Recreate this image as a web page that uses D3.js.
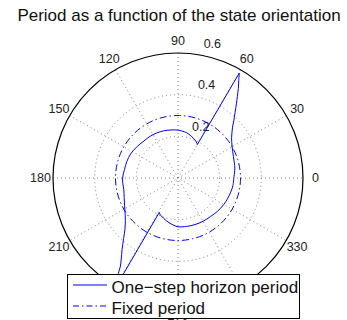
<!DOCTYPE html>
<html>
<head>
<meta charset="utf-8">
<script src="https://cdn.jsdelivr.net/npm/d3@7/dist/d3.min.js"></script>
<style>
html,body{margin:0;padding:0;background:#fff;}
text{font-family:"Liberation Sans",Arial,Helvetica,sans-serif;}
</style>
</head>
<body>
<svg id="chart" width="347" height="320"></svg>
<script>
// ---- data ----
const titleText = "Period as a function of the state orientation";
const angleTicks = [0, 30, 60, 90, 120, 150, 180, 210, 240, 270, 300, 330];
const radiusTicks = [0.2, 0.4, 0.6];
const rMax = 0.6;
const seriesNames = ["One\u2212step horizon period", "Fixed period"];
// One-step horizon period: orientation (deg) and period; three continuous branches
const branch1Theta = [0, 5, 10, 15, 21, 26, 30, 34, 37, 40, 43, 46, 49, 52, 54, 56, 58, 59.7];
const branch1Period = [0.268, 0.272, 0.277, 0.280, 0.285, 0.292, 0.300, 0.311, 0.322, 0.338, 0.358, 0.386, 0.418, 0.456, 0.485, 0.518, 0.550, 0.583];
const branch2Theta = [60, 61, 63, 66, 69, 74, 79, 85, 90, 96, 103, 111, 120, 127, 134, 143, 153, 162, 171, 180,
  186, 192, 200, 207, 214, 219, 224, 228, 232, 235, 237, 238, 240.3];
const branch2Period = [0.185, 0.189, 0.194, 0.200, 0.205, 0.213, 0.221, 0.226, 0.230, 0.232, 0.235, 0.238, 0.240, 0.241, 0.242, 0.248, 0.255, 0.258, 0.260, 0.266,
  0.266, 0.266, 0.275, 0.288, 0.306, 0.325, 0.354, 0.390, 0.436, 0.475, 0.509, 0.540, 0.583];
const branch3Theta = [241.5, 243, 246, 250, 255, 260, 265, 270, 280, 290, 300, 310, 320, 330, 338, 345, 352, 360];
const branch3Period = [0.188, 0.193, 0.199, 0.205, 0.213, 0.221, 0.228, 0.234, 0.236, 0.238, 0.240, 0.242, 0.248, 0.254, 0.258, 0.262, 0.266, 0.268];
// Fixed period: constant
const fixedPeriod = 0.3;

// ---- drawing ----
const svg = d3.select("#chart");
const cx = 178, cy = 178, R = 125;
const r = d3.scaleLinear().domain([0, rMax]).range([0, R]);
const toRad = d => d * Math.PI / 180;
const px = (deg, val) => cx + r(val) * Math.cos(toRad(deg));
const py = (deg, val) => cy - r(val) * Math.sin(toRad(deg));

svg.append("rect").attr("width", 347).attr("height", 320).attr("fill", "#fff");

const g = svg.append("g");
const gridStyle = s => s.attr("fill", "none").attr("stroke", "#666").attr("stroke-width", 0.8).attr("stroke-dasharray", "1 3");

// spokes (full diameters)
[30, 60, 90, 120, 150, 180].forEach(a => {
  g.append("line")
    .attr("x1", px(a, rMax)).attr("y1", py(a, rMax))
    .attr("x2", px(a + 180, rMax)).attr("y2", py(a + 180, rMax))
    .call(gridStyle);
});
// inner rings
radiusTicks.filter(v => v < rMax).forEach(v => {
  g.append("circle").attr("cx", cx).attr("cy", cy).attr("r", r(v)).call(gridStyle);
});
// outer ring
g.append("circle").attr("cx", cx).attr("cy", cy).attr("r", r(rMax))
  .attr("fill", "none").attr("stroke", "#000").attr("stroke-width", 1.2);

// radius labels (along 82 deg)
radiusTicks.forEach(v => {
  const rr = v + rMax / 60;
  g.append("text")
    .attr("x", px(82, rr) + 8).attr("y", py(82, rr) - 4)
    .attr("font-size", 12.5).attr("fill", "#222")
    .text(v.toString());
});

// angle labels
angleTicks.forEach(a => {
  g.append("text")
    .attr("x", px(a, rMax * 1.1)).attr("y", py(a, rMax * 1.1))
    .attr("text-anchor", "middle").attr("dominant-baseline", "central")
    .attr("font-size", 12.5).attr("fill", "#222")
    .text(a);
});

// series
const radial = d3.lineRadial()
  .angle(d => Math.PI / 2 - toRad(d[0]))
  .radius(d => r(d[1]))
  .curve(d3.curveCatmullRom.alpha(0.5));

const branches = [[branch1Theta, branch1Period], [branch2Theta, branch2Period], [branch3Theta, branch3Period]];
const pathD = branches.map(([th, pr], k) => {
  const d = radial(th.map((t, i) => [t, pr[i]]));
  return k === 0 ? d : "L" + d.slice(1);
}).join("");

const gData = svg.append("g").attr("transform", `translate(${cx},${cy})`);
gData.append("path")
  .attr("d", pathD)
  .attr("fill", "none").attr("stroke", "#0000ff").attr("stroke-width", 1);

gData.append("circle").attr("cx", 0).attr("cy", 0).attr("r", r(fixedPeriod))
  .attr("fill", "none").attr("stroke", "#0000ff").attr("stroke-width", 1)
  .attr("stroke-dasharray", "7 3 1.5 3");

// title
svg.append("text").attr("x", 179).attr("y", 20.5)
  .attr("text-anchor", "middle").attr("font-size", 17).attr("fill", "#111")
  .text(titleText);

// legend
const lg = svg.append("g");
lg.append("rect").attr("x", 67.5).attr("y", 274.5).attr("width", 232).attr("height", 44)
  .attr("fill", "#fff").attr("stroke", "#000").attr("stroke-width", 1);
const rows = [{y: 285, dash: null}, {y: 306, dash: "6 3 1.5 3"}];
rows.forEach((row, i) => {
  const ln = lg.append("line").attr("x1", 73).attr("x2", 107).attr("y1", row.y).attr("y2", row.y)
    .attr("stroke", "#0000ff").attr("stroke-width", 1);
  if (row.dash) ln.attr("stroke-dasharray", row.dash);
  lg.append("text").attr("x", 111.5).attr("y", row.y + 7.5)
    .attr("font-size", 17).attr("fill", "#111").text(seriesNames[i]);
});
</script>
</body>
</html>
